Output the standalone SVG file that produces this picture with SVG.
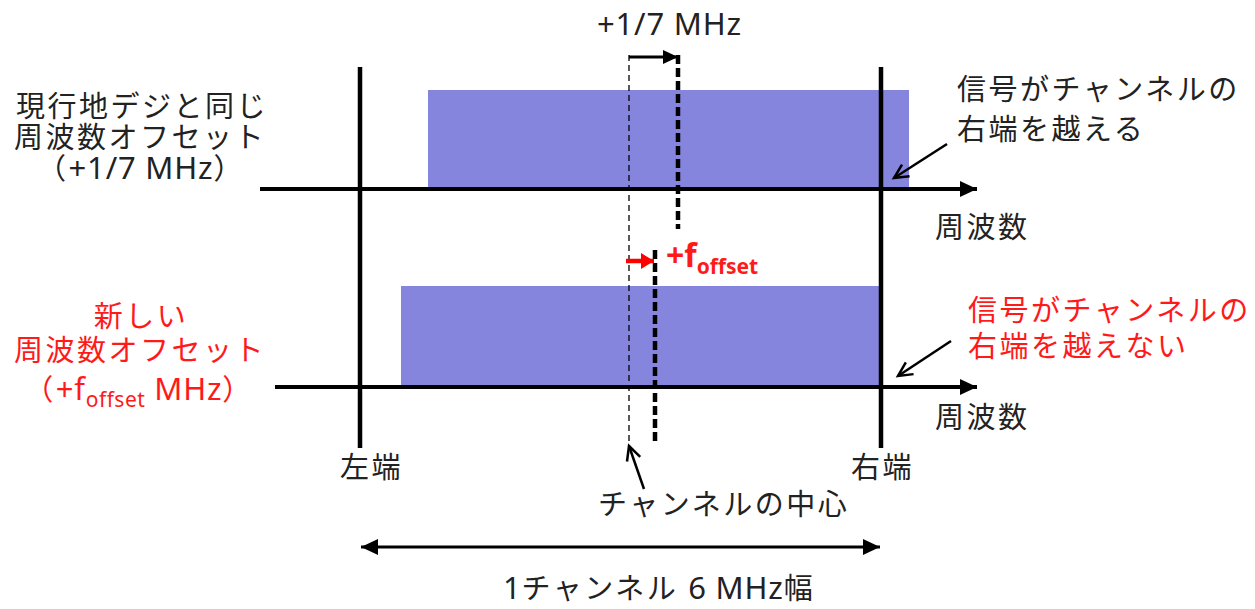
<svg xmlns="http://www.w3.org/2000/svg" width="1255" height="609" viewBox="0 0 1255 609">
<style>
text{font-family:"Noto Sans","Noto Sans CJK JP",sans-serif;font-size:29px;letter-spacing:2.5px;fill:#222}
.lat{font-size:31px;letter-spacing:0.8px}
.red{fill:#ff1a1a}
.band{fill:#8585dd}
.ax{stroke:#000;stroke-width:4;fill:none}
.edge{stroke:#000;stroke-width:4.5;fill:none}
.thin{stroke:#000;stroke-width:1.3;stroke-dasharray:6 4;fill:none}
.thick{stroke:#000;stroke-width:4.5;stroke-dasharray:9 4;fill:none}
.call{stroke:#000;stroke-width:2.5;fill:none}
</style>
<defs>
<marker id="ah" markerUnits="userSpaceOnUse" markerWidth="18" markerHeight="16" refX="17" refY="8" orient="auto-start-reverse"><path d="M0,0 L17,8 L0,16 Z" fill="#000"/></marker>
<marker id="ahs" markerUnits="userSpaceOnUse" markerWidth="16" markerHeight="14" refX="15" refY="7" orient="auto"><path d="M0,0 L15,7 L0,14 Z" fill="#000"/></marker>
<marker id="ahr" markerUnits="userSpaceOnUse" markerWidth="14" markerHeight="16" refX="13" refY="8" orient="auto"><path d="M0,0 L13,8 L0,16 Z" fill="#ff0000"/></marker>
<marker id="open" markerUnits="userSpaceOnUse" markerWidth="20" markerHeight="20" refX="16" refY="10" orient="auto"><path d="M2,3 L16,10 L2,17" fill="none" stroke="#000" stroke-width="2.5"/></marker>
</defs>

<g id="bands">
<rect id="band-top" class="band" x="428" y="90" width="481" height="99"/>
<rect id="band-bottom" class="band" x="401" y="286" width="480" height="101"/>
</g>

<g id="connectors">
<line class="edge" x1="360" y1="67" x2="360" y2="448"/>
<line class="edge" x1="881" y1="67" x2="881" y2="448"/>
<line class="ax" x1="260" y1="189" x2="977" y2="189" marker-end="url(#ah)"/>
<line class="ax" x1="275" y1="387" x2="977" y2="387" marker-end="url(#ah)"/>
<line class="thin" x1="629" y1="55" x2="629" y2="445"/>
<line class="thick" x1="678" y1="55" x2="678" y2="229"/>
<line class="thick" x1="655" y1="250" x2="655" y2="444"/>
<line stroke="#000" stroke-width="3" x1="629" y1="57" x2="678" y2="57" marker-end="url(#ahs)"/>
<line stroke="#ff0000" stroke-width="4.5" x1="626" y1="261" x2="654" y2="261" marker-end="url(#ahr)"/>
<line class="call" x1="947" y1="144" x2="894" y2="178" marker-end="url(#open)"/>
<line class="call" x1="951" y1="341" x2="898" y2="376" marker-end="url(#open)"/>
<line class="call" x1="644" y1="489" x2="629" y2="446" marker-end="url(#open)"/>
<line stroke="#000" stroke-width="3" x1="361" y1="547" x2="880" y2="547" marker-start="url(#ah)" marker-end="url(#ah)"/>
</g>

<g id="label-top-offset"><text class="lat" x="597" y="35">+1/7 MHz</text></g>
<g id="label-current">
<text x="142" y="117" text-anchor="middle">現行地デジと同じ</text>
<text x="140" y="148" text-anchor="middle">周波数オフセット</text>
<text x="141" y="179" text-anchor="middle">（<tspan class="lat">+1/7 MHz</tspan>）</text>
</g>
<g id="label-new">
<text class="red" x="141" y="327" text-anchor="middle">新しい</text>
<text class="red" x="140" y="361" text-anchor="middle">周波数オフセット</text>
<text class="red" x="139" y="400" text-anchor="middle">（<tspan class="lat">+f</tspan><tspan font-size="21" style="letter-spacing:0.5px" dy="7">offset</tspan><tspan class="lat" dy="-7"> MHz</tspan>）</text>
</g>
<g id="label-foffset"><text class="red" x="666" y="267" font-weight="bold" style="letter-spacing:0;font-size:32px">+f<tspan font-size="21" dy="7">offset</tspan></text></g>
<g id="label-exceed">
<text x="957" y="100">信号がチャンネルの</text>
<text x="957" y="140">右端を越える</text>
</g>
<g id="label-not-exceed">
<text class="red" x="968" y="321">信号がチャンネルの</text>
<text class="red" x="968" y="357">右端を越えない</text>
</g>
<g id="label-freq-top"><text x="935" y="238">周波数</text></g>
<g id="label-freq-bottom"><text x="935" y="428">周波数</text></g>
<g id="label-left"><text x="340" y="478">左端</text></g>
<g id="label-right"><text x="851" y="478">右端</text></g>
<g id="label-center"><text x="598" y="515">チャンネルの中心</text></g>
<g id="label-width"><text x="503" y="599"><tspan class="lat">1</tspan>チャンネル <tspan class="lat">6 MHz</tspan>幅</text></g>
</svg>
